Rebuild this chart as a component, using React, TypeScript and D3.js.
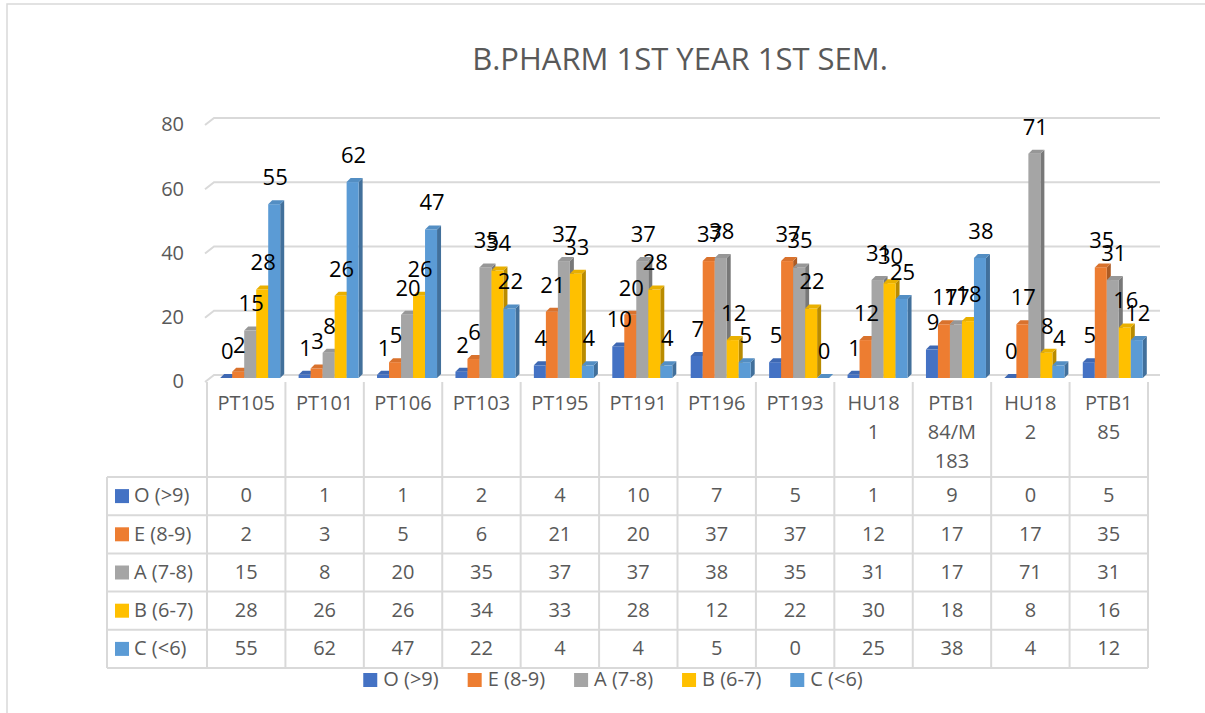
import React, { useEffect, useRef } from "react";
import * as d3 from "d3";

const title = "B.PHARM 1ST YEAR 1ST SEM.";
const categories = ["PT105", "PT101", "PT106", "PT103", "PT195", "PT191", "PT196", "PT193", "HU18\n1", "PTB1\n84/M\n183", "HU18\n2", "PTB1\n85"];
const seriesNames = ["O (>9)", "E (8-9)", "A (7-8)", "B (6-7)", "C (<6)"];
const seriesColors = ["#4472C4", "#ED7D31", "#A5A5A5", "#FFC000", "#5B9BD5"];
const valuesO = [0, 1, 1, 2, 4, 10, 7, 5, 1, 9, 0, 5];
const valuesE = [2, 3, 5, 6, 21, 20, 37, 37, 12, 17, 17, 35];
const valuesA = [15, 8, 20, 35, 37, 37, 38, 35, 31, 17, 71, 31];
const valuesB = [28, 26, 26, 34, 33, 28, 12, 22, 30, 18, 8, 16];
const valuesC = [55, 62, 47, 22, 4, 4, 5, 0, 25, 38, 4, 12];
const yTicks = [0, 20, 40, 60, 80];

const seriesValues = [valuesO, valuesE, valuesA, valuesB, valuesC];

const W = 1205;
const H = 713;
const FONT = "'Open Sans', 'Noto Sans', sans-serif";
const GRID = "#d9d9d9";
const TXT = "#595959";

export default function App() {
  const ref = useRef<SVGSVGElement | null>(null);

  useEffect(() => {
    const svg = d3.select(ref.current);
    svg.selectAll("*").remove();

    // outer chart border
    svg.append("rect").attr("x", 7).attr("y", 4).attr("width", W + 20).attr("height", H + 20)
      .attr("fill", "#fff").attr("stroke", GRID).attr("stroke-width", 1.5);

    // title
    svg.append("text").attr("x", 680).attr("y", 62).attr("text-anchor", "middle")
      .attr("dominant-baseline", "middle").attr("font-family", FONT).attr("font-size", 31)
      .attr("fill", TXT).text(title);

    // table geometry
    const tableLeft = 107;
    const colLeft = 207;
    const tableRight = 1148;
    const headerTop = 382;
    const headerBottom = 477;
    const rowH = 38.2;

    const x = d3.scaleBand<number>().domain(d3.range(categories.length)).range([colLeft, tableRight]).padding(0);
    const yBack = d3.scaleLinear().domain([0, 80]).range([375, 118]);
    const yFront = d3.scaleLinear().domain([0, 80]).range([378, 125.2]);

    // gridlines (3D back wall)
    const gridG = svg.append("g");
    yTicks.forEach((t) => {
      const yy = yBack(t);
      gridG.append("path")
        .attr("d", `M205,${yy + 7}L214,${yy}L1160,${yy}`)
        .attr("fill", "none").attr("stroke", GRID).attr("stroke-width", 2);
      gridG.append("text").attr("x", 184).attr("y", yy + 8).attr("text-anchor", "end")
        .attr("dominant-baseline", "middle").attr("font-family", FONT).attr("font-size", 20)
        .attr("fill", TXT).text(String(t));
    });

    // bars
    const barW = 12;
    const dx = 4;
    const dy = 4;
    const barsG = svg.append("g");
    const labels: { x: number; y: number; t: string }[] = [];
    categories.forEach((_, ci) => {
      const cx = (x(ci) as number) + x.bandwidth() / 2;
      const groupLeft = cx - 26;
      seriesValues.forEach((vals, si) => {
        const v = vals[ci];
        const bx = groupLeft + si * barW;
        const y0 = yFront(0);
        const yt = yFront(v);
        const base = d3.color(seriesColors[si]) as d3.RGBColor;
        const side = base.darker(0.9).toString();
        const top = base.darker(0.25).toString();
        barsG.append("polygon")
          .attr("points", `${bx + barW},${yt} ${bx + barW + dx},${yt - dy} ${bx + barW + dx},${y0 - dy} ${bx + barW},${y0}`)
          .attr("fill", side);
        barsG.append("rect").attr("x", bx).attr("y", yt).attr("width", barW).attr("height", y0 - yt)
          .attr("fill", seriesColors[si]);
        barsG.append("polygon")
          .attr("points", `${bx},${yt} ${bx + dx},${yt - dy} ${bx + barW + dx},${yt - dy} ${bx + barW},${yt}`)
          .attr("fill", top);
        labels.push({ x: bx + barW / 2 + 1, y: yt - 25, t: String(v) });
      });
    });
    const labG = svg.append("g");
    labels.forEach((l) => {
      labG.append("text").attr("x", l.x).attr("y", l.y).attr("text-anchor", "middle")
        .attr("dominant-baseline", "middle").attr("font-family", FONT).attr("font-size", 22)
        .attr("fill", "#000").text(l.t);
    });

    // data table
    const tG = svg.append("g");
    const tableBottom = headerBottom + rowH * seriesNames.length;
    d3.range(categories.length + 1).forEach((i) => {
      const xx = i < categories.length ? (x(i) as number) : tableRight;
      tG.append("line").attr("x1", xx).attr("x2", xx).attr("y1", headerTop).attr("y2", tableBottom)
        .attr("stroke", GRID).attr("stroke-width", 2);
    });
    tG.append("line").attr("x1", tableLeft).attr("x2", tableLeft).attr("y1", headerBottom).attr("y2", tableBottom)
      .attr("stroke", GRID).attr("stroke-width", 2);
    d3.range(seriesNames.length + 1).forEach((r) => {
      const yy = headerBottom + r * rowH;
      tG.append("line").attr("x1", tableLeft).attr("x2", tableRight).attr("y1", yy).attr("y2", yy)
        .attr("stroke", GRID).attr("stroke-width", 2);
    });
    categories.forEach((c, ci) => {
      const cx = (x(ci) as number) + x.bandwidth() / 2;
      const lines = c.split("\n");
      lines.forEach((ln, li) => {
        tG.append("text").attr("x", cx).attr("y", 405 + li * 29).attr("text-anchor", "middle")
          .attr("dominant-baseline", "middle").attr("font-family", FONT).attr("font-size", 20)
          .attr("fill", TXT).text(ln);
      });
    });
    seriesNames.forEach((name, si) => {
      const cy = headerBottom + (si + 0.5) * rowH;
      tG.append("rect").attr("x", 115).attr("y", cy - 7).attr("width", 14).attr("height", 14)
        .attr("fill", seriesColors[si]);
      tG.append("text").attr("x", 134).attr("y", cy + 1).attr("dominant-baseline", "middle")
        .attr("font-family", FONT).attr("font-size", 20).attr("fill", TXT).text(name);
      seriesValues[si].forEach((v, ci) => {
        const cx = (x(ci) as number) + x.bandwidth() / 2;
        tG.append("text").attr("x", cx).attr("y", cy + 1).attr("text-anchor", "middle")
          .attr("dominant-baseline", "middle").attr("font-family", FONT).attr("font-size", 20)
          .attr("fill", TXT).text(String(v));
      });
    });

    // bottom legend
    const lg = svg.append("g");
    const items: any[] = [];
    const widths: number[] = [];
    seriesNames.forEach((name, si) => {
      const g = lg.append("g");
      g.append("rect").attr("x", 0).attr("y", -7).attr("width", 14).attr("height", 14).attr("fill", seriesColors[si]);
      const t = g.append("text").attr("x", 20).attr("y", 1).attr("dominant-baseline", "middle")
        .attr("font-family", FONT).attr("font-size", 20).attr("fill", TXT).text(name);
      const tw = (t.node() as SVGTextElement).getComputedTextLength();
      widths.push(20 + tw);
      items.push(g);
    });
    const gap = 29;
    const total = d3.sum(widths) + gap * (widths.length - 1);
    let cur = 613 - total / 2;
    items.forEach((g, i) => {
      g.attr("transform", `translate(${cur},680)`);
      cur += widths[i] + gap;
    });
  }, []);

  return (
    <svg ref={ref} width={W} height={H} style={{ position: "absolute", left: 0, top: 0, background: "#fff" }} />
  );
}
